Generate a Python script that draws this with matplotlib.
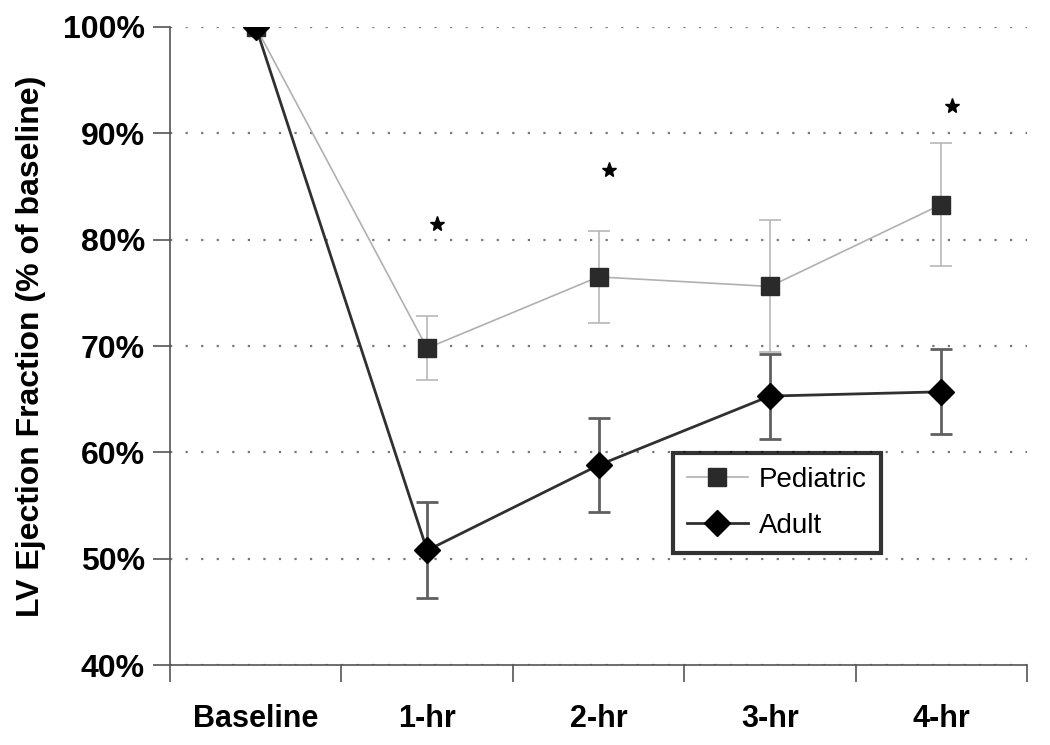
import numpy as np
import matplotlib.pyplot as plt
from matplotlib.ticker import PercentFormatter

plt.rcParams['font.family'] = ['Liberation Sans', 'DejaVu Sans']

# data (% of baseline)
timepoints = ['Baseline', '1-hr', '2-hr', '3-hr', '4-hr']
pediatric = [100, 69.8, 76.5, 75.6, 83.3]
pediatric_err = [0, 3.0, 4.3, 6.2, 5.8]
adult = [100, 50.8, 58.8, 65.3, 65.7]
adult_err = [0, 4.5, 4.4, 4.0, 4.0]
# significance stars above 1-hr, 2-hr and 4-hr
star_idx = [1, 2, 4]
star_y = [81.5, 86.5, 92.6]

x = np.arange(len(timepoints))

fig = plt.figure(figsize=(10.5, 7.45), dpi=100)
ax = fig.add_axes([0.162, 0.107, 0.816, 0.857])

# pediatric series
ped = ax.errorbar(x, pediatric, yerr=pediatric_err, color='#b0b0b0', lw=1.2,
                  ecolor='#b8b8b8', elinewidth=1.2, capsize=8, capthick=1.2,
                  marker='s', markersize=13, markerfacecolor='#2a2a2a',
                  markeredgecolor='#2a2a2a', zorder=3)
# adult series
adu = ax.errorbar(x, adult, yerr=adult_err, color='#303030', lw=2.0,
                  ecolor='#606060', elinewidth=2.0, capsize=8, capthick=2.0,
                  marker='D', markersize=13, markerfacecolor='black',
                  markeredgecolor='black', zorder=4)

ax.plot(x[star_idx] + 0.06, star_y, linestyle='none', marker='*',
        markersize=11, color='black')

ax.set_xlim(-0.5, len(timepoints) - 0.5)
ax.set_ylim(40, 100)
ax.set_yticks(np.arange(40, 101, 10))
ax.yaxis.set_major_formatter(PercentFormatter(decimals=0))
ax.set_xticks(x)
ax.set_xticklabels(timepoints, fontweight='bold', fontsize=22)
ax.set_xticks(np.arange(-0.5, len(timepoints)), minor=True)
ax.tick_params(axis='x', which='major', length=0, pad=28)
ax.tick_params(axis='x', which='minor', length=12, width=1.2, color='#555555')
ax.tick_params(axis='y', length=12, width=1.2, color='#555555', labelsize=23, pad=6)
for lab in ax.get_yticklabels():
    lab.set_fontweight('bold')

ax.grid(axis='y', linestyle=(0, (1, 6)), color='#777777', lw=1.6)
ax.set_axisbelow(True)
for s in ['top', 'right']:
    ax.spines[s].set_visible(False)
for s in ['left', 'bottom']:
    ax.spines[s].set_color('#555555')
    ax.spines[s].set_linewidth(1.2)

ax.set_ylabel('LV Ejection Fraction (% of baseline)', fontsize=23,
              fontweight='bold', labelpad=12)

leg = ax.legend([ped.lines[0], adu.lines[0]], ['Pediatric', 'Adult'],
                loc='upper left', bbox_to_anchor=(0.587, 0.332), fontsize=20,
                frameon=True, fancybox=False, handlelength=2.2,
                borderpad=0.5, labelspacing=0.7, handletextpad=0.4,
                borderaxespad=0)
leg.get_frame().set_edgecolor('black')
leg.get_frame().set_linewidth(3)

fig.savefig('out.png', dpi=100)
